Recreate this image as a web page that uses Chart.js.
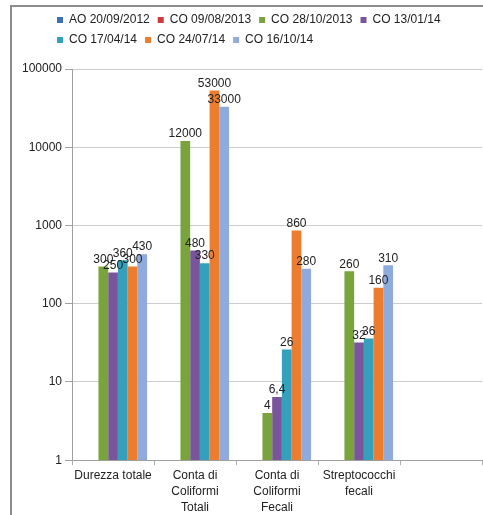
<!DOCTYPE html>
<html>
<head>
<meta charset="utf-8">
<script src="https://cdn.jsdelivr.net/npm/chart.js@4/dist/chart.umd.min.js"></script>
<style>
  body { margin: 0; background: #fff; overflow: hidden; }
  #frame {
    position: absolute; left: 10px; top: 5px; width: 473px; height: 514px;
    border-left: 2px solid #8c8c8c; border-top: 2px solid #8c8c8c;
  }
  canvas { display: block; }
</style>
</head>
<body>
<div id="frame"><canvas id="chart" width="471" height="511"></canvas></div>
<script>
/* Data */
const categories = [
  'Durezza totale',
  ['Conta di', 'Coliformi', 'Totali'],
  ['Conta di', 'Coliformi', 'Fecali'],
  ['Streptococchi', 'fecali'],
  ''
];
const seriesNames = ['AO 20/09/2012', 'CO 09/08/2013', 'CO 28/10/2013', 'CO 13/01/14',
                     'CO 17/04/14', 'CO 24/07/14', 'CO 16/10/14'];
const ao_20_09_2012 = [null, null, null, null, null];
const co_09_08_2013 = [null, null, null, null, null];
const co_28_10_2013 = [300, 12000, 4, 260, null];
const co_13_01_14   = [250, 480, 6.4, 32, null];
const co_17_04_14   = [360, 330, 26, 36, null];
const co_24_07_14   = [300, 53000, 860, 160, null];
const co_16_10_14   = [430, 33000, 280, 310, null];
const yTicks = [1, 10, 100, 1000, 10000, 100000];

const colors = ['#3f6fb9', '#cf3a3c', '#79a43c', '#7a559c', '#35a0bc', '#ec7d2e', '#8faadc'];
const values = [ao_20_09_2012, co_09_08_2013, co_28_10_2013, co_13_01_14,
                co_17_04_14, co_24_07_14, co_16_10_14];

Chart.defaults.font.family = '"Liberation Sans", Arial, sans-serif';
Chart.defaults.font.size = 12;
Chart.defaults.color = '#222';

// value labels above bars (Excel style, comma decimals)
const barLabels = {
  id: 'barLabels',
  afterDatasetsDraw(chart){
    const ctx = chart.ctx;
    ctx.save();
    ctx.font = '12px "Liberation Sans", Arial, sans-serif';
    ctx.fillStyle = '#222';
    ctx.textAlign = 'center';
    ctx.textBaseline = 'bottom';
    chart.data.datasets.forEach((ds, i) => {
      chart.getDatasetMeta(i).data.forEach((bar, j) => {
        const v = ds.data[j];
        if(v == null) return;
        ctx.fillText(String(v).replace('.', ','), bar.x, bar.y - 1);
      });
    });
    ctx.restore();
  }
};

// move legend rows like the original (right and up)
const shiftLegend = {
  id: 'shiftLegend',
  afterLayout(chart){
    chart.legend.left += 30;
    chart.legend.top -= 13;
  }
};

new Chart(document.getElementById('chart'), {
  type: 'bar',
  plugins: [barLabels, shiftLegend],
  data: {
    labels: categories,
    datasets: values.map((v, i) => ({
      label: seriesNames[i],
      data: v,
      backgroundColor: colors[i],
      borderWidth: 0
    }))
  },
  options: {
    responsive: false,
    devicePixelRatio: 1,
    animation: false,
    categoryPercentage: 0.83,
    barPercentage: 1,
    layout: {
      padding: { left: 7, right: 1, top: 12, bottom: 0 }
    },
    plugins: {
      tooltip: { enabled: false },
      legend: {
        position: 'top',
        align: 'start',
        labels: {
          boxWidth: 6,
          boxHeight: 6,
          padding: 8,
          color: '#222',
          font: { size: 12 }
        }
      }
    },
    scales: {
      x: {
        grid: {
          offset: true,
          drawOnChartArea: false,
          drawTicks: true,
          tickLength: 5,
          color: '#b0b0b0'
        },
        border: { color: '#a0a0a0' },
        ticks: {
          autoSkip: false,
          maxRotation: 0,
          padding: 3,
          font: { size: 12, lineHeight: 1.3 }
        }
      },
      y: {
        type: 'logarithmic',
        min: 1,
        max: 100000,
        afterBuildTicks: axis => { axis.ticks = yTicks.map(v => ({ value: v })); },
        grid: {
          color: '#cccccc',
          borderDash: [3, 2],
          tickBorderDash: [],
          tickColor: '#a0a0a0',
          tickLength: 7
        },
        border: { color: '#a0a0a0' },
        ticks: {
          padding: 3,
          callback: v => String(v)
        }
      }
    }
  }
});
</script>
</body>
</html>
